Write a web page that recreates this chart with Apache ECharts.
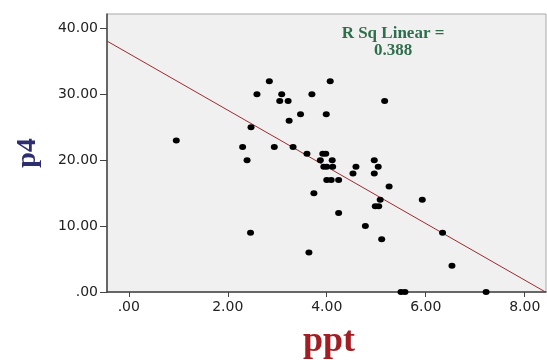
<!DOCTYPE html>
<html>
<head>
<meta charset="utf-8">
<script src="https://cdn.jsdelivr.net/npm/echarts@6/dist/echarts.min.js"></script>
<style>
  html, body { margin: 0; padding: 0; background: #fff; }
  #chart { width: 547px; height: 360px; }
</style>
</head>
<body>
<div id="chart"></div>
<script>
var ppt = [0.96, 2.47, 2.30, 2.39, 2.94, 2.59, 2.84, 2.46, 4.07, 3.09, 3.70, 3.05, 3.22,
           3.47, 3.99, 3.24, 3.32, 3.60, 3.92, 3.98, 3.87, 4.11, 3.94, 4.00, 4.12, 5.17,
           4.59, 4.96, 5.04, 4.00, 4.09, 4.24, 4.53, 4.96, 5.26, 3.74, 5.08, 4.98, 5.05,
           5.93, 4.24, 4.78, 5.11, 6.34, 3.64, 6.53, 5.50, 5.58, 7.22];
var p4 = [23, 25, 22, 20, 22, 30, 32, 9, 32, 30, 30, 29, 29,
          27, 27, 26, 22, 21, 21, 21, 20, 20, 19, 19, 19, 29,
          19, 20, 19, 17, 17, 17, 18, 18, 16, 15, 14, 13, 13,
          14, 12, 10, 8, 9, 6, 4, 0, 0, 0];

// linear fit (SPSS "R Sq Linear")
var fitIntercept = 36.2;
var fitSlope = -4.3;
var rSquare = '0.388';

var xTicks = [0, 2, 4, 6, 8];
var yTicks = [0, 10, 20, 30, 40];
var xRange = [-0.44, 8.43];
var yRange = [0, 42.2];

function fmt(v) {
    return v === 0 ? '.00' : v.toFixed(2);
}

var points = ppt.map(function (x, i) { return [x, p4[i]]; });
var fitLine = xRange.map(function (x) { return [x, fitIntercept + fitSlope * x]; });

var chart = echarts.init(document.getElementById('chart'));
chart.setOption({
    animation: false,
    grid: {
        left: 107, top: 14, right: 1, bottom: 68,
        show: true,
        backgroundColor: '#f0f0f0',
        borderColor: '#a8a8a8',
        borderWidth: 1
    },
    xAxis: {
        type: 'value',
        min: xRange[0],
        max: xRange[1],
        axisLine: { show: true, onZero: false, lineStyle: { color: '#444', width: 1.5 } },
        axisTick: { show: true, length: 5, customValues: xTicks, lineStyle: { color: '#444' } },
        axisLabel: {
            customValues: xTicks,
            formatter: fmt,
            color: '#222',
            fontFamily: 'DejaVu Sans',
            fontSize: 14,
            margin: 8
        },
        splitLine: { show: false }
    },
    yAxis: {
        type: 'value',
        min: yRange[0],
        max: yRange[1],
        axisLine: { show: true, onZero: false, lineStyle: { color: '#444', width: 1.5 } },
        axisTick: { show: true, length: 7, customValues: yTicks, lineStyle: { color: '#444' } },
        axisLabel: {
            customValues: yTicks,
            formatter: fmt,
            color: '#222',
            fontFamily: 'DejaVu Sans',
            fontSize: 14,
            margin: 9
        },
        splitLine: { show: false }
    },
    graphic: [
        {
            type: 'text', x: 393, y: 25,
            style: {
                text: 'R Sq Linear =\n' + rSquare,
                align: 'center', verticalAlign: 'top',
                fill: '#2f6e4c',
                font: 'bold 17px "Liberation Serif"',
                lineHeight: 17
            }
        },
        {
            type: 'text', x: 28, y: 153, rotation: Math.PI / 2,
            style: {
                text: 'p4',
                align: 'center', verticalAlign: 'middle',
                fill: '#2e2d70',
                font: 'bold 28px "Liberation Serif"'
            }
        },
        {
            type: 'text', x: 329, y: 342,
            style: {
                text: 'ppt',
                align: 'center', verticalAlign: 'middle',
                fill: '#a31e22',
                font: 'bold 36px "Liberation Serif"'
            }
        }
    ],
    series: [
        {
            type: 'line',
            data: fitLine,
            symbol: 'none',
            lineStyle: { color: '#9e2a30', width: 1 },
            z: 2
        },
        {
            type: 'scatter',
            data: points,
            symbol: 'circle',
            symbolSize: [7, 6],
            itemStyle: { color: '#000', opacity: 1 },
            z: 3
        }
    ]
});
</script>
</body>
</html>
